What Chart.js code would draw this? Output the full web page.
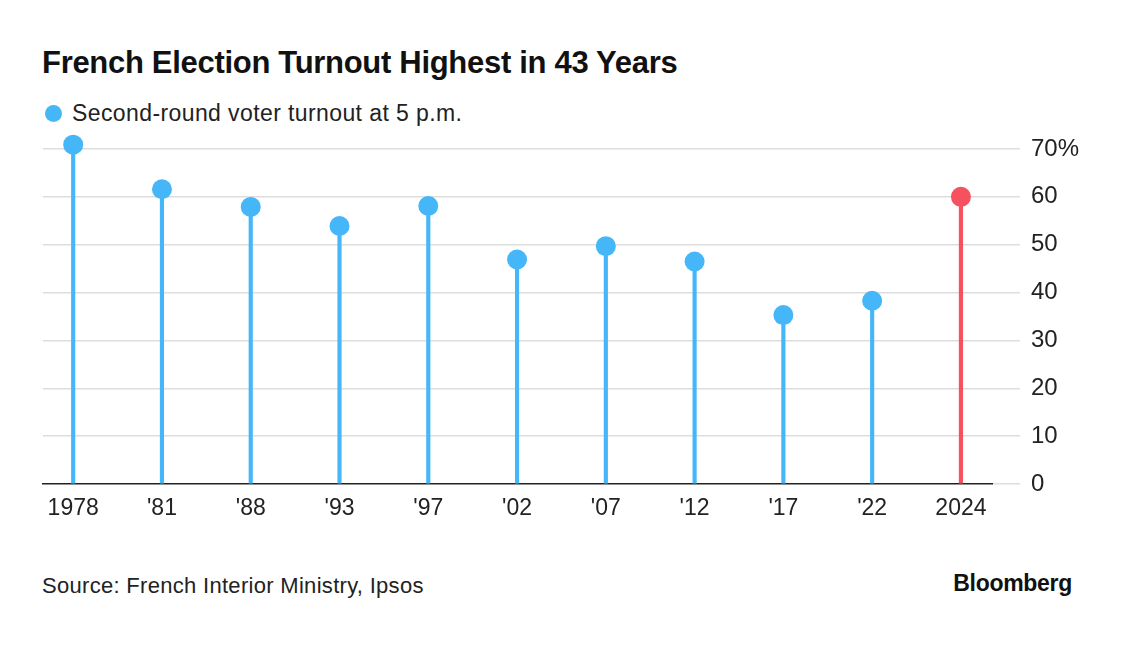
<!DOCTYPE html>
<html>
<head>
<meta charset="utf-8">
<script src="https://cdn.jsdelivr.net/npm/chart.js@4"></script>
<style>
  html, body { margin:0; padding:0; background:#fff; }
  body { width:1123px; height:651px; position:relative; overflow:hidden; font-family:"Liberation Sans", Arial, sans-serif; color:#111; }
  #title { position:absolute; left:42px; top:45px; font-size:31px; font-weight:bold; letter-spacing:-0.3px; white-space:nowrap; }
  #legend { position:absolute; left:45px; top:100px; font-size:23px; letter-spacing:0.4px; color:#222; white-space:nowrap; display:flex; align-items:center; }
  #legend .dot { width:17px; height:17px; border-radius:50%; background:#45B7F8; display:inline-block; margin-right:10px; }
  #source { position:absolute; left:42px; top:573px; font-size:22px; letter-spacing:0.3px; color:#222; white-space:nowrap; }
  #brand { position:absolute; right:51px; top:570px; font-size:23px; font-weight:bold; color:#111; letter-spacing:-0.3px; }
  #wrap { position:absolute; left:0; top:0; width:1123px; height:651px; }
</style>
</head>
<body>
<div id="title">French Election Turnout Highest in 43 Years</div>
<div id="legend"><span class="dot"></span>Second-round voter turnout at 5 p.m.</div>
<div id="source">Source: French Interior Ministry, Ipsos</div>
<div id="brand">Bloomberg</div>
<div id="wrap"><canvas id="c"></canvas></div>
<script>
const categories = ['1978', "'81", "'88", "'93", "'97", "'02", "'07", "'12", "'17", "'22", '2024'];
const turnout = [70.9, 61.6, 57.9, 53.9, 58.1, 46.9, 49.7, 46.5, 35.3, 38.3, 60.0];
const yTicks = [0, 10, 20, 30, 40, 50, 60, 70];

const BLUE = '#45B7F8';
const RED = '#F5515F';
const colors = categories.map((c, i) => i === categories.length - 1 ? RED : BLUE);
const pts = turnout.map((v, i) => ({ x: i, y: v }));

new Chart(document.getElementById('c'), {
  type: 'bar',
  data: {
    datasets: [
      {
        type: 'line',
        data: pts,
        showLine: false,
        pointRadius: 10,
        pointHoverRadius: 10,
        pointBackgroundColor: colors,
        pointBorderWidth: 0,
        borderColor: 'transparent',
        clip: false,
        order: 0
      },
      {
        type: 'bar',
        data: pts,
        backgroundColor: colors,
        barThickness: 3.5,
        borderWidth: 0,
        order: 1
      }
    ]
  },
  options: {
    responsive: true,
    maintainAspectRatio: false,
    animation: false,
    events: [],
    layout: { padding: { left: 43, top: 149, right: 0, bottom: 127 } },
    plugins: { legend: { display: false }, tooltip: { enabled: false } },
    scales: {
      x: {
        type: 'linear',
        offset: false,
        min: -0.34,
        max: 10.35,
        afterBuildTicks: (axis) => { axis.ticks = categories.map((c, i) => ({ value: i })); },
        afterFit: (axis) => { axis.height = 40; },
        grid: { display: false, offset: false },
        border: { display: true, color: '#222', width: 1.5 },
        ticks: {
          autoSkip: false,
          maxRotation: 0,
          padding: 3,
          color: '#222',
          font: { family: 'Liberation Sans', size: 23 },
          callback: (v) => categories[v]
        }
      },
      y: {
        position: 'right',
        min: 0,
        max: 70,
        afterBuildTicks: (axis) => { axis.ticks = yTicks.map(v => ({ value: v })); },
        afterFit: (axis) => { axis.width = 131; },
        border: { display: false },
        grid: {
          color: (ctx) => ctx.tick && ctx.tick.value === 0 ? 'rgba(0,0,0,0)' : '#dddddd',
          tickColor: '#dddddd',
          lineWidth: 1.5,
          drawTicks: true,
          tickLength: 28
        },
        ticks: {
          padding: 11,
          color: '#222',
          font: { family: 'Liberation Sans', size: 24 },
          callback: (v) => v === 70 ? v + '%' : String(v)
        }
      }
    }
  }
});
</script>
</body>
</html>
